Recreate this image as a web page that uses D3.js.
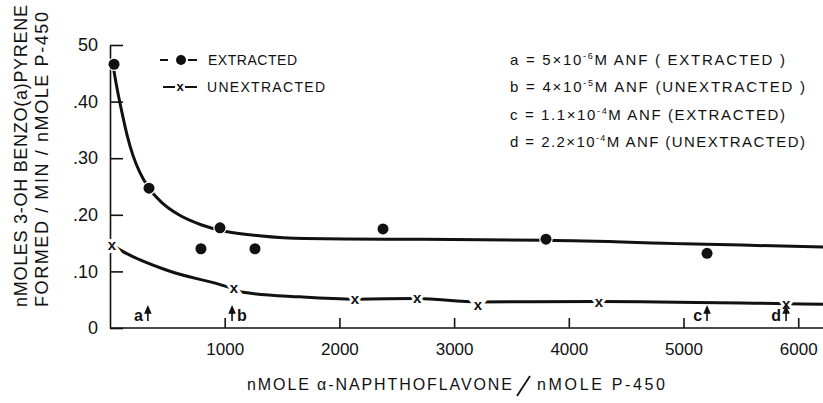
<!DOCTYPE html>
<html>
<head>
<meta charset="utf-8">
<script src="https://cdn.jsdelivr.net/npm/d3@7"></script>
<style>
  body { margin: 0; background: #fff; }
  text { font-family: "Liberation Sans", Arial, sans-serif; fill: #111; }
</style>
</head>
<body>
<div class="fig"></div>
<script>
// measured points
var extractedX = [35, 340, 793, 959, 1264, 2380, 3801, 5205];
var extractedY = [0.466, 0.247, 0.140, 0.177, 0.140, 0.175, 0.157, 0.132];
var unextractedX = [17, 1081, 2136, 2677, 3208, 4263, 5894];
var unextractedY = [0.147, 0.071, 0.051, 0.053, 0.041, 0.046, 0.042];

// hand drawn curves through them
var extFitX = [30, 60, 100, 150, 200, 260, 340, 450, 600, 800, 1000, 1300, 1700, 2400, 3800, 5000, 6216];
var extFitY = [0.460, 0.425, 0.385, 0.340, 0.305, 0.275, 0.247, 0.222, 0.200, 0.182, 0.171, 0.163, 0.158, 0.157, 0.155, 0.149, 0.143];
var unextFitX = [17, 87, 497, 1020, 1160, 1656, 2136, 2677, 3208, 4263, 5894, 6216];
var unextFitY = [0.147, 0.138, 0.102, 0.073, 0.063, 0.055, 0.051, 0.052, 0.046, 0.047, 0.043, 0.042];

var xTicks = [1000, 2000, 3000, 4000, 5000, 6000];
var yTicks = [0, 0.1, 0.2, 0.3, 0.4, 0.5];
var yTickLabels = ["0", ".10", ".20", ".30", ".40", "50"];

// concentration markers
var markLetters = ["a", "b", "c", "d"];
var markX = [330, 1064, 5205, 5894];
var markSide = ["left", "right", "left", "left"];

var noteLetters = ["a", "b", "c", "d"];
var noteMant = ["5×10", "4×10", "1.1×10", "2.2×10"];
var noteExp = ["-6", "-5", "-4", "-4"];
var noteKind = ["( EXTRACTED )", "(UNEXTRACTED )", "(EXTRACTED)", "(UNEXTRACTED)"];
var noteLen = [275, 295, 275, 295];

var W = 823, H = 403;
var svg = d3.select(".fig").append("svg")
    .attr("width", W)
    .attr("height", H);

var x = d3.scaleLinear().domain([0, 6216]).range([110, 823]);
var y = d3.scaleLinear().domain([0, 0.5]).range([328, 45]);

// axes
var yAxis = d3.axisLeft(y)
    .tickValues(yTicks)
    .tickFormat(function(d, i) { return yTickLabels[i]; })
    .tickSizeInner(-13)
    .tickSizeOuter(0)
    .tickPadding(12);
var gy = svg.append("g")
    .attr("transform", "translate(110,0)")
    .call(yAxis);
gy.selectAll("text").style("font-size", "18px").style("font-family", "Liberation Sans, Arial, sans-serif");

var xAxis = d3.axisBottom(x)
    .tickValues(xTicks)
    .tickFormat(d3.format("d"))
    .tickSizeInner(-10)
    .tickSizeOuter(0)
    .tickPadding(15);
var gx = svg.append("g")
    .attr("transform", "translate(0,328)")
    .call(xAxis);
gx.selectAll("text").style("font-size", "17px").style("font-family", "Liberation Sans, Arial, sans-serif");

svg.selectAll(".domain, .tick line").attr("stroke", "#111").attr("stroke-width", 1.6);
// x axis starts at the y axis
gx.select(".domain").attr("d", "M110,0H823");

// curves
var line = d3.line()
    .x(function(d) { return x(d[0]); })
    .y(function(d) { return y(d[1]); })
    .curve(d3.curveMonotoneX);

svg.append("path")
    .datum(d3.zip(extFitX, extFitY))
    .attr("d", line)
    .attr("fill", "none")
    .attr("stroke", "#111")
    .attr("stroke-width", 3);

svg.append("path")
    .datum(d3.zip(unextFitX, unextFitY))
    .attr("d", line)
    .attr("fill", "none")
    .attr("stroke", "#111")
    .attr("stroke-width", 3);

// extracted dots, with a white ring to break the line
svg.selectAll(".dot")
    .data(d3.zip(extractedX, extractedY))
    .enter().append("circle")
    .attr("class", "dot")
    .attr("cx", function(d) { return x(d[0]); })
    .attr("cy", function(d) { return y(d[1]); })
    .attr("r", 5.5)
    .attr("fill", "#111")
    .attr("stroke", "#fff")
    .attr("stroke-width", 2.5)
    .attr("paint-order", "stroke");

// unextracted crosses
svg.selectAll(".cross")
    .data(d3.zip(unextractedX, unextractedY))
    .enter().append("text")
    .attr("class", "cross")
    .attr("x", function(d) { return x(d[0]); })
    .attr("y", function(d) { return y(d[1]); })
    .attr("dy", "0.32em")
    .attr("text-anchor", "middle")
    .style("font-size", "15px")
    .style("font-weight", "bold")
    .attr("stroke", "#fff")
    .attr("stroke-width", 6)
    .attr("paint-order", "stroke")
    .text("x");

// a, b, c, d arrows
var marks = svg.selectAll(".mark")
    .data(markLetters)
    .enter().append("g")
    .attr("transform", function(d, i) { return "translate(" + x(markX[i]) + ",0)"; });
marks.append("path")
    .attr("d", "M0,321V309M-2.6,313L0,307L2.6,313Z")
    .attr("stroke", "#111")
    .attr("stroke-width", 1.6)
    .attr("fill", "#111");
marks.append("text")
    .attr("x", function(d, i) { return markSide[i] == "left" ? -5 : 5; })
    .attr("y", 321)
    .attr("text-anchor", function(d, i) { return markSide[i] == "left" ? "end" : "start"; })
    .style("font-size", "16px")
    .style("font-weight", "bold")
    .text(function(d) { return d; });

// legend
var leg = svg.append("g");
leg.append("path").attr("d", "M160,60H168M188,60H197M163,87H175M185,87H197")
    .attr("stroke", "#111").attr("stroke-width", 2.2);
leg.append("circle").attr("cx", 181).attr("cy", 60).attr("r", 5).attr("fill", "#111");
leg.append("text").attr("x", 180).attr("y", 87).attr("dy", "0.32em")
    .attr("text-anchor", "middle").style("font-size", "13px").style("font-weight", "bold").text("x");
leg.append("text").attr("x", 208).attr("y", 65).style("font-size", "14px")
    .attr("textLength", 89).text("EXTRACTED");
leg.append("text").attr("x", 207).attr("y", 92).style("font-size", "14px")
    .attr("textLength", 118).text("UNEXTRACTED");

// concentration notes
var notes = svg.selectAll(".note")
    .data(noteLetters)
    .enter().append("text")
    .attr("class", "note")
    .attr("x", 510)
    .attr("y", function(d, i) { return 65 + i * 27.3; })
    .attr("textLength", function(d, i) { return noteLen[i]; })
    .attr("lengthAdjust", "spacing")
    .style("font-size", "15px");
notes.append("tspan").text(function(d, i) { return d + " = " + noteMant[i]; });
notes.append("tspan").attr("dy", -6).style("font-size", "9px").text(function(d, i) { return noteExp[i]; });
notes.append("tspan").attr("dy", 6).text("M  ANF  ");
notes.append("tspan").text(function(d, i) { return noteKind[i]; });

// axis titles
svg.append("text")
    .attr("transform", "translate(27,307) rotate(-90)")
    .attr("textLength", 302)
    .style("font-size", "18px")
    .text("nMOLES 3-OH BENZO(a)PYRENE");
svg.append("text")
    .attr("transform", "translate(48,307) rotate(-90)")
    .attr("textLength", 295)
    .style("font-size", "18px")
    .text("FORMED / MIN / nMOLE P-450");

svg.append("text")
    .attr("x", 247).attr("y", 390)
    .attr("textLength", 265)
    .style("font-size", "16px")
    .text("nMOLE α-NAPHTHOFLAVONE");
svg.append("path").attr("d", "M517,396L530,376").attr("stroke", "#111").attr("stroke-width", 1.8);
svg.append("text")
    .attr("x", 537).attr("y", 390)
    .attr("textLength", 128)
    .style("font-size", "16px")
    .text("nMOLE P-450");
</script>
</body>
</html>
